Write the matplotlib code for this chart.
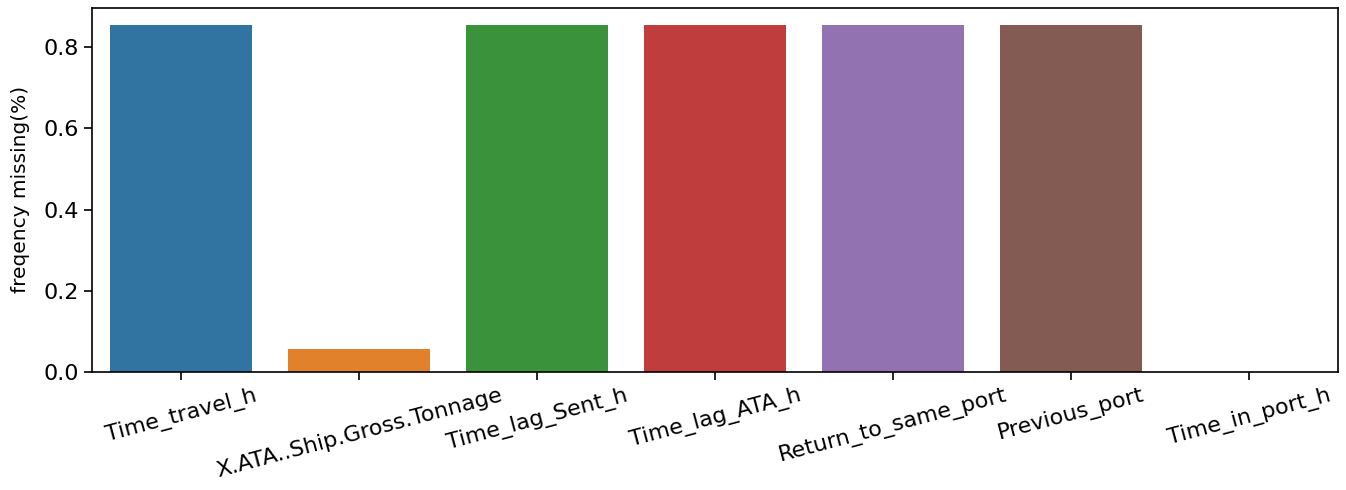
import matplotlib
matplotlib.use("Agg")
import matplotlib.pyplot as plt
import seaborn as sns
from matplotlib.ticker import MultipleLocator

categories = ["Time_travel_h", "X.ATA..Ship.Gross.Tonnage", "Time_lag_Sent_h",
              "Time_lag_ATA_h", "Return_to_same_port", "Previous_port", "Time_in_port_h"]
values = [0.854, 0.0566, 0.854, 0.854, 0.854, 0.854, 0.0]

fig, ax = plt.subplots(figsize=(13.46, 4.9), dpi=100)
sns.barplot(x=categories, y=values, hue=categories, palette=sns.color_palette()[:7],
            ax=ax, legend=False)
ax.set_ylabel("freqency missing(%)", fontsize=14.5, labelpad=10)
ax.tick_params(axis="both", labelsize=16, length=6, width=1.2)
ax.yaxis.set_major_locator(MultipleLocator(0.2))
plt.setp(ax.get_xticklabels(), rotation=15)
for s in ax.spines.values():
    s.set_linewidth(1.2)
ax.set_xlim(-0.5, 6.5)
fig.subplots_adjust(left=0.0685, right=0.994, top=0.984, bottom=0.241)
fig.savefig("out.png", dpi=100)
